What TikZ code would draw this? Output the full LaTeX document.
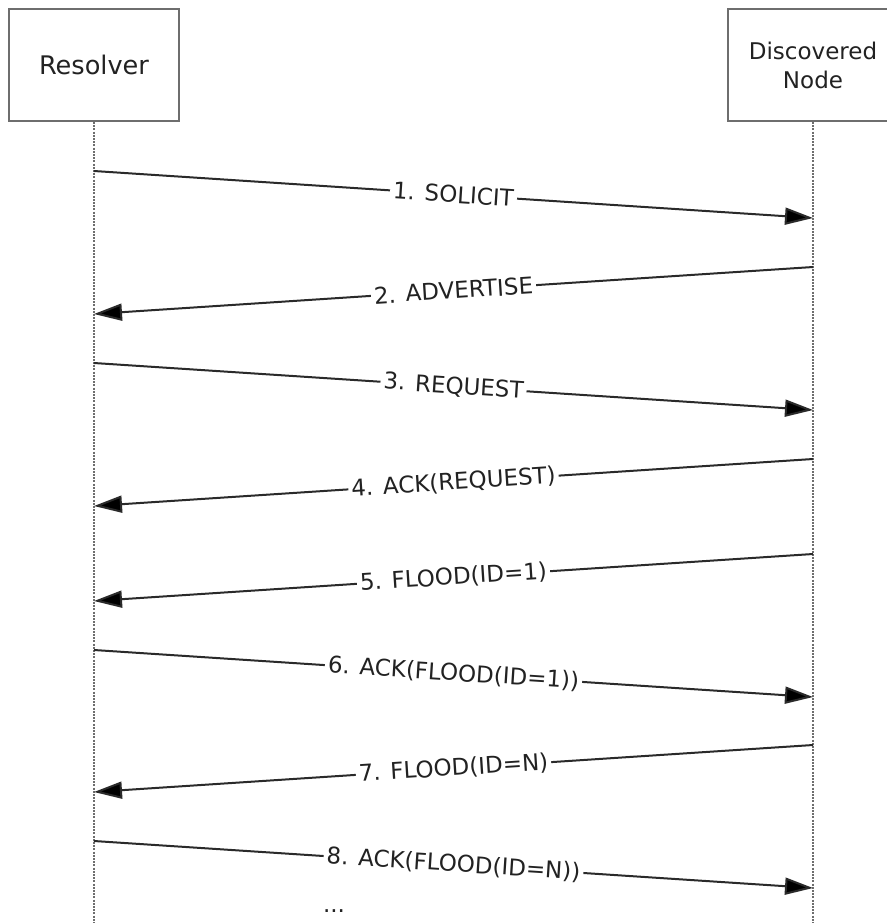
\documentclass[tikz,border=0pt]{standalone}
\usepackage{fontspec}
\setmainfont{DejaVu Sans}
\usetikzlibrary{calc, arrows.meta}

\definecolor{boxgray}{HTML}{6E6E6E}
\definecolor{textgray}{HTML}{222222}
\definecolor{linegray}{HTML}{2A2A2A}

\tikzset{
    actor/.style={rectangle, draw=boxgray, line width=1pt, fill=white, minimum width=85pt, minimum height=56pt, align=center},
    lifeline/.style={draw=boxgray, line width=0.75pt, dash pattern=on 1pt off 0.6pt},
    msg/.style={draw=linegray, line width=1pt, -{Triangle[length=14pt, width=8.5pt, fill=black]}},
    lbl/.style={sloped, midway, fill=white, inner sep=1.5pt}
}

\begin{document}
\begin{tikzpicture}[x=0.5pt, y=-0.5pt, font=\fontsize{11.5}{14.5}\selectfont, text=textgray]
        \useasboundingbox (0,0) rectangle (887,923);

        % actors
        \node[actor, font=\fontsize{12.8}{15}\selectfont] (resolver) at (94,65) {Resolver};
        \node[actor] (discovered) at (813,65) {Discovered\\Node};

        % lifelines
        \coordinate (resolverend) at (94,923);
        \coordinate (discoveredend) at (813,923);
        \draw[lifeline] (resolver.south) -- (resolverend);
        \draw[lifeline] (discovered.south) -- (discoveredend);

        % message end points
        \coordinate (r1) at ($(resolver.south) + (0,49)$);
        \coordinate (d1) at ($(discovered.south) + (0,96)$);
        \coordinate (d2) at ($(discovered.south) + (0,145)$);
        \coordinate (r2) at ($(resolver.south) + (0,192)$);
        \coordinate (r3) at ($(resolver.south) + (0,241)$);
        \coordinate (d3) at ($(discovered.south) + (0,288)$);
        \coordinate (d4) at ($(discovered.south) + (0,337)$);
        \coordinate (r4) at ($(resolver.south) + (0,384)$);
        \coordinate (d5) at ($(discovered.south) + (0,432)$);
        \coordinate (r5) at ($(resolver.south) + (0,479)$);
        \coordinate (r6) at ($(resolver.south) + (0,528)$);
        \coordinate (d6) at ($(discovered.south) + (0,575)$);
        \coordinate (d7) at ($(discovered.south) + (0,623)$);
        \coordinate (r7) at ($(resolver.south) + (0,670)$);
        \coordinate (r8) at ($(resolver.south) + (0,719)$);
        \coordinate (d8) at ($(discovered.south) + (0,766)$);

        % messages
        \draw[msg] (r1) -- node[lbl] {1. SOLICIT} (d1);
        \draw[msg] (d2) -- node[lbl] {2. ADVERTISE} (r2);
        \draw[msg] (r3) -- node[lbl] {3. REQUEST} (d3);
        \draw[msg] (d4) -- node[lbl] {4. ACK(REQUEST)} (r4);
        \draw[msg] (d5) -- node[lbl] {5. FLOOD(ID=1)} (r5);
        \draw[msg] (r6) -- node[lbl] {6. ACK(FLOOD(ID=1))} (d6);
        \draw[msg] (d7) -- node[lbl] {7. FLOOD(ID=N)} (r7);
        \draw[msg] (r8) -- node[lbl] {8. ACK(FLOOD(ID=N))} (d8);

        % more messages
        \node (more) at (334,911) {...};

    \end{tikzpicture}
\end{document}
